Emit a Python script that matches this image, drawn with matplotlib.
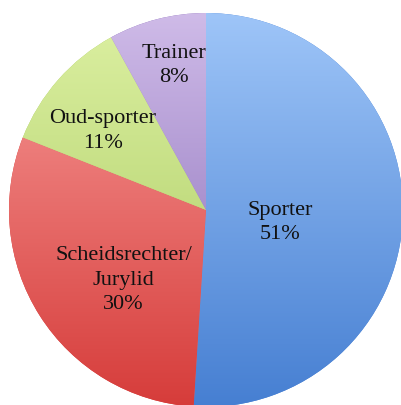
import numpy as np
import matplotlib.pyplot as plt
from matplotlib.colors import LinearSegmentedColormap

labels = ["Sporter", "Scheidsrechter/\nJurylid", "Oud-sporter", "Trainer"]
values = [51, 30, 11, 8]
top_colors = ["#9ec5f8", "#f89c9a", "#dcf0a2", "#cfbbe8"]
bottom_colors = ["#467fd2", "#d63c3a", "#a8c95e", "#8366b4"]
label_dist = [0.38, 0.55, 0.66, 0.75]
label_shift = [-8, 8, 4, -2]  # degrees off the wedge middle

W, H = 401, 405
cx, cy, r = 206, H - 210, 197

fig = plt.figure(figsize=(W / 100, H / 100), dpi=100)
ax = fig.add_axes([0, 0, 1, 1])
ax.set_xlim(0, W)
ax.set_ylim(0, H)
ax.set_aspect("equal")
ax.axis("off")

wedges, _ = ax.pie(values, startangle=90, counterclock=False,
                   center=(cx, cy), radius=r, colors=bottom_colors,
                   wedgeprops=dict(linewidth=0))

# vertical gradient inside each wedge
grad = np.linspace(0, 1, 256).reshape(-1, 1)
for w, c0, c1 in zip(wedges, top_colors, bottom_colors):
    cmap = LinearSegmentedColormap.from_list("g", [c1, c0])
    im = ax.imshow(grad, cmap=cmap, origin="lower", aspect="auto",
                   extent=(cx - r, cx + r, cy - r, cy + r), zorder=2)
    im.set_clip_path(w)

for w, lab, v, d, s in zip(wedges, labels, values, label_dist, label_shift):
    ang = np.deg2rad((w.theta1 + w.theta2) / 2 + s)
    ax.text(cx + d * r * np.cos(ang), cy + d * r * np.sin(ang),
            f"{lab}\n{v}%", ha="center", va="center", fontsize=16,
            family="Liberation Serif", color="#111111", zorder=3,
            linespacing=1.38)

ax.set_xlim(0, W)
ax.set_ylim(0, H)
fig.savefig("out.png", dpi=100)
